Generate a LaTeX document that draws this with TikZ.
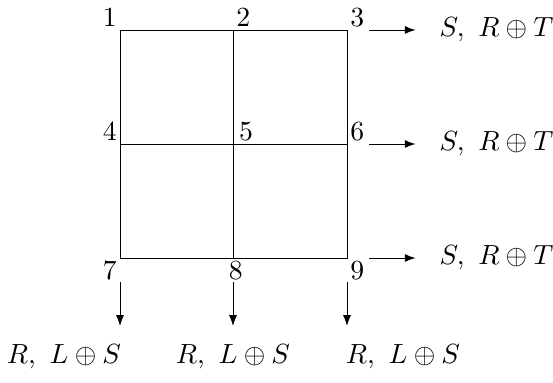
\documentclass[tikz,border=0pt]{standalone}
\usepackage{amsmath,amssymb}
\usetikzlibrary{arrows.meta,positioning}

\begin{document}
\begin{tikzpicture}[x=0.361pt,y=0.361pt,line width=0.35pt,
    num/.style={inner sep=1pt},
    flow/.style={-{Latex[length=3.9pt,width=2.9pt]}}]
    \useasboundingbox (0,0) rectangle (553,-383);
    % grid corners
    \foreach \i/\x/\y in {1/120/-30,2/233/-30,3/347/-30,
                          4/120/-144,5/233/-144,6/347/-144,
                          7/120/-258,8/233/-258,9/347/-258} {
        \coordinate (c\i) at (\x,\y);
    }
    \draw (c1) rectangle (c9);
    \draw (c2) -- (c8);
    \draw (c4) -- (c6);
    % point labels
    \node[num, anchor=south east] (n1) at (c1) {1};
    \node[num, anchor=south west] (n2) at (c2) {2};
    \node[num, anchor=south west] (n3) at (c3) {3};
    \node[num, anchor=south east] (n4) at (c4) {4};
    \node[num, anchor=south west] (n5) at ([xshift=1pt]c5) {5};
    \node[num, anchor=south west] (n6) at (c6) {6};
    \node[num, anchor=north east] (n7) at (c7) {7};
    \node[num, anchor=north] (n8) at ([xshift=1pt]c8) {8};
    \node[num, anchor=north west] (n9) at (c9) {9};
    % outputs to the right
    \foreach \i/\y in {3/-30,6/-144,9/-258} {
        \node[anchor=west] (o\i) at (430,\y) {$S,\ R\oplus T$};
        \draw[flow, shorten <=8pt, shorten >=5.2pt] (c\i) -- (o\i);
    }
    % outputs below
    \foreach \i/\x/\tx in {7/120/64,8/233/233,9/347/403} {
        \coordinate (d\i) at (\x,-326);
        \draw[flow, shorten <=8.7pt] (c\i) -- (d\i);
        \node (b\i) at (\tx,-357) {$R,\ L\oplus S$};
    }
\end{tikzpicture}
\end{document}
